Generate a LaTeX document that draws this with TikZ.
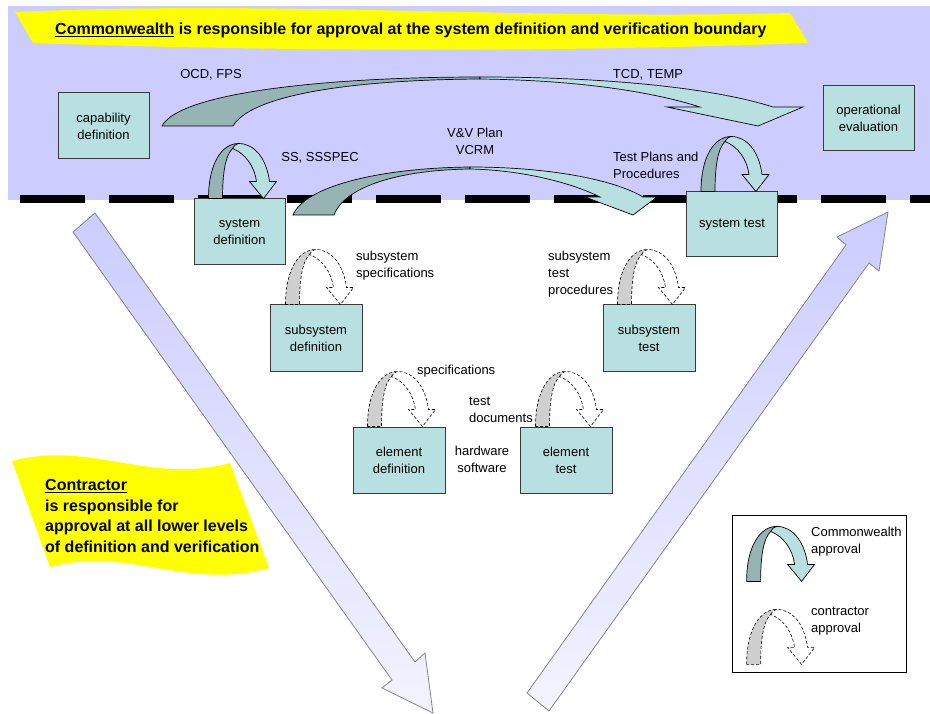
\documentclass[tikz,border=0pt]{standalone}
\usepackage{fontspec}
\setmainfont{Liberation Sans}
\usetikzlibrary{calc}

\definecolor{lav}{HTML}{CCCCFF}
\definecolor{lavpale}{HTML}{F3F3FF}
\definecolor{boxfill}{HTML}{B9E0E0}
\definecolor{tealdark}{HTML}{96B4B4}
\definecolor{cgray}{HTML}{CFCFCF}
\definecolor{edge}{HTML}{3A3A3A}
\definecolor{bigedge}{HTML}{858585}
\definecolor{banner}{HTML}{FFFF00}

% heavier underline for the bold notes
\newcommand\heavyul[1]{\setbox0\hbox{#1}\rlap{\rule[-2.8pt]{\wd0}{1.6pt}}\box0\relax}

\tikzset{
  stage/.style={draw=edge, line width=1pt, fill=boxfill, minimum width=91pt,
    minimum height=66pt, inner sep=0pt, align=center,
    font=\fontsize{13}{17}\selectfont},
  lbl/.style={inner sep=0pt, font=\fontsize{13}{17}\selectfont},
  boldnote/.style={inner sep=0pt, font=\bfseries\fontsize{16}{20.7}\selectfont},
  cwback/.style={draw=black, line width=0.7pt, fill=tealdark},
  cwfront/.style={draw=black, line width=0.7pt, fill=boxfill},
  ctback/.style={draw=black, line width=0.6pt, dash pattern=on 3pt off 2pt, fill=cgray},
  ctfront/.style={draw=black, line width=0.6pt, dash pattern=on 3pt off 2pt, fill=white},
  bigarrow/.style={draw=bigedge, line width=0.8pt, top color=lav, bottom color=lavpale},
  % U-turn approval arrow, origin at the outer foot of its rising leg
  pics/uturn/.style 2 args={code={
    \path[#1, yscale=-1] (0,0) .. controls (0,36) and (14,55) .. (30,55)
      -- (24,50) .. controls (17,43) and (14,26) .. (14,0) -- cycle;
    \path[#2, yscale=-1] (24,50) .. controls (26,53) and (28,55) .. (30,55)
      .. controls (46,55) and (58,40) .. (61,17) -- (68,17) -- (55,0)
      -- (41,17) -- (48,17) .. controls (46,32) and (37,45) .. (24,50) -- cycle;
  }},
}

\begin{document}
\begin{tikzpicture}[x=1pt, y=-1pt]
\useasboundingbox (0,0) rectangle (930,714);

% system-level band
\fill[lav] (8,6) rectangle (930,200);

% banner across the top
\fill[banner] (15,12) .. controls (280,0) and (520,20) .. (790,13)
  -- (808,43) .. controls (560,52) and (300,52) .. (33,43) -- cycle;
\node[boldnote, anchor=base west] (cwhead) at (55,34.7)
  {\heavyul{Commonwealth} is responsible for approval at the system definition and verification boundary};

% boundary line
\foreach \x in {20,109,...,821} \fill[black] (\x,195) rectangle ++(65,8);
\fill[black] (910,195) rectangle (930,203);

% descending and ascending legs of the V
\path[bigarrow] (95,213) -- (415,662) -- (425,653) -- (433,713) -- (382,688)
  -- (392,680) -- (73,232) -- cycle;
\path[bigarrow] (527,693) -- (846,245) -- (837,237) -- (888,212) -- (879,271)
  -- (869,263) -- (549,711) -- cycle;

% OCD, FPS / TCD, TEMP arrow
\path[cwback] (162,126) .. controls (180,92) and (330,77) .. (480,77)
  -- (480,79) .. controls (340,80) and (250,97) .. (233,126) -- cycle;
\path[cwfront] (480,77) .. controls (620,77) and (720,90) .. (773,107)
  -- (803,107) -- (758,126) -- (667,107) -- (700,107)
  .. controls (640,88) and (560,80) .. (480,79) -- cycle;

% V&V Plan / VCRM arrow
\path[cwback] (293,215) .. controls (305,186) and (380,168) .. (470,167)
  -- (470,169) .. controls (400,170) and (345,186) .. (334,215) -- cycle;
\path[cwfront] (470,167) .. controls (550,167) and (615,180) .. (643,197)
  -- (657,197) -- (633,215) -- (585,197) -- (600,197)
  .. controls (570,182) and (520,170) .. (470,169) -- cycle;

% stages
\node[stage] (capdef) at (103.5,126) {capability\\definition};
\node[stage, minimum height=65pt] (opeval) at (868.5,118.5) {operational\\evaluation};
\node[stage] (sysdef) at (239.5,232) {system\\definition};
\node[stage, minimum height=65pt] (systest) at (732,224.5) {system test};
\node[stage, minimum width=92pt, minimum height=67pt] (subdef) at (316,338.5) {subsystem\\definition};
\node[stage, minimum width=92pt, minimum height=67pt] (subtest) at (649,338.5) {subsystem\\test};
\node[stage, minimum width=92pt] (eldef) at (399,460) {element\\definition};
\node[stage, minimum width=92pt] (eltest) at (566,460) {element\\test};

% approval arrows on the stages
\pic at ([xshift=15pt]sysdef.north west) {uturn={cwback}{cwfront}};
\pic at ([xshift=15pt]systest.north west) {uturn={cwback}{cwfront}};
\pic at ([xshift=16pt]subdef.north west) {uturn={ctback}{ctfront}};
\pic at ([xshift=15pt]subtest.north west) {uturn={ctback}{ctfront}};
\pic at ([xshift=15pt]eldef.north west) {uturn={ctback}{ctfront}};
\pic at ([xshift=16pt]eltest.north west) {uturn={ctback}{ctfront}};

% document labels
\node[lbl, anchor=base] (ocd) at (211,79) {OCD, FPS};
\node[lbl, anchor=base] (tcd) at (648,79) {TCD, TEMP};
\node[lbl, anchor=base] (ss) at (320,162) {SS, SSSPEC};
\node[lbl, anchor=north, align=center] (vv) at (475,128) {V\&V Plan\\VCRM};
\node[lbl, anchor=north west, align=left] (tpp) at (613,152) {Test Plans and\\Procedures};
\node[lbl, anchor=north west, align=left] (sspec) at (356,251) {subsystem\\specifications};
\node[lbl, anchor=north west, align=left] (stp) at (548,251) {subsystem\\test\\procedures};
\node[lbl, anchor=base west] (spec) at (417,374) {specifications};
\node[lbl, anchor=north west, align=left] (tdoc) at (469,397) {test\\documents};
\node[lbl, anchor=north, align=center] (hw) at (482,446) {hardware\\software};

% contractor note
\fill[banner] (12,461) .. controls (90,440) and (150,485) .. (230,463)
  -- (269,568) .. controls (188,591) and (128,546) .. (50,567) -- cycle;
\node[boldnote, anchor=north west, align=left] (ctnote) at (45,479)
  {\heavyul{Contractor}\\is responsible for\\approval at all lower levels\\of definition and verification};

% legend
\node[draw=black, line width=0.8pt, fill=white, minimum width=174pt,
  minimum height=157pt, inner sep=0pt] (legend) at (819,593.5) {};
\pic at ($(legend.south west)+(15,-91)$) {uturn={cwback}{cwfront}};
\pic at ($(legend.south west)+(15,-8)$) {uturn={ctback}{ctfront}};
\node[lbl, anchor=north west, align=left] (lgcw) at (811,527) {Commonwealth\\approval};
\node[lbl, anchor=north west, align=left] (lgct) at (811,607) {contractor\\approval};
\end{tikzpicture}
\end{document}
